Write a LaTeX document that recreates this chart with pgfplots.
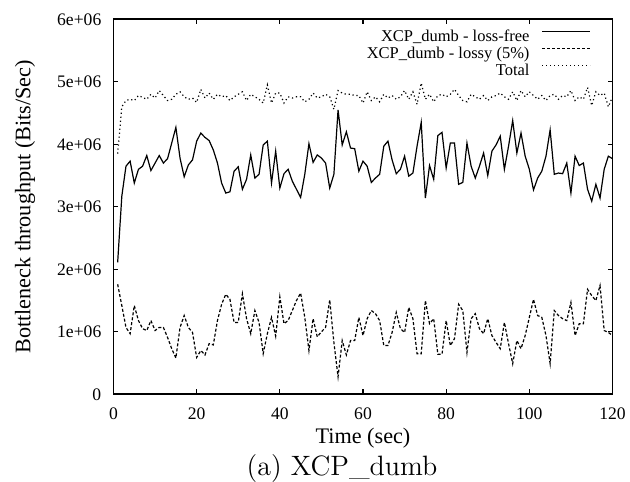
\documentclass[border=0pt]{standalone}
\usepackage{pgfplots}
\usepackage{pgfplotstable}
\pgfplotsset{compat=1.18}
\usepackage{fontspec}
\newfontfamily\tms{Liberation Serif}
\pgfplotstableread{
t free lossy total
1 2.11 1.76 3.85
2 3.17 1.42 4.60
3 3.65 1.07 4.70
4 3.73 0.97 4.72
5 3.38 1.42 4.70
6 3.60 1.18 4.78
7 3.65 1.05 4.75
8 3.82 1.02 4.72
9 3.58 1.18 4.80
10 3.70 1.02 4.74
11 3.82 1.07 4.86
12 3.70 1.07 4.78
13 3.77 0.91 4.70
14 4.02 0.73 4.72
15 4.27 0.58 4.80
16 3.78 1.07 4.84
17 3.48 1.26 4.76
18 3.67 1.07 4.72
19 3.75 0.99 4.74
20 4.05 0.59 4.67
21 4.18 0.70 4.88
22 4.11 0.63 4.74
23 4.06 0.81 4.82
24 3.91 0.79 4.72
25 3.70 1.18 4.80
26 3.38 1.44 4.76
27 3.22 1.60 4.78
28 3.24 1.52 4.70
29 3.57 1.15 4.76
30 3.64 1.15 4.80
31 3.28 1.61 4.84
32 3.44 1.21 4.70
33 3.83 0.97 4.80
34 3.46 1.34 4.76
35 3.52 1.15 4.72
36 3.99 0.65 4.66
37 4.05 0.97 4.95
38 3.38 1.23 4.66
39 3.89 0.93 4.82
40 3.30 1.56 4.82
41 3.53 1.13 4.66
42 3.60 1.18 4.76
43 3.41 1.34 4.74
44 3.28 1.50 4.76
45 3.15 1.62 4.76
46 3.52 1.23 4.68
47 4.01 0.70 4.72
48 3.71 1.21 4.82
49 3.83 0.92 4.74
50 3.78 1.00 4.76
51 3.70 1.07 4.80
52 3.30 1.51 4.76
53 3.52 0.83 4.56
54 4.55 0.28 4.86
55 3.99 0.86 4.82
56 4.20 0.63 4.80
57 3.94 0.86 4.80
58 3.93 0.86 4.78
59 3.57 1.23 4.78
60 3.73 0.94 4.66
61 3.65 1.21 4.84
62 3.39 1.34 4.70
63 3.46 1.29 4.76
64 3.52 1.18 4.68
65 3.97 0.78 4.80
66 4.05 0.78 4.74
67 3.75 0.99 4.78
68 3.53 1.31 4.72
69 3.60 1.05 4.76
70 3.81 0.99 4.86
71 3.49 1.39 4.72
72 3.54 1.21 4.84
73 3.97 0.65 4.64
74 4.35 0.65 4.98
75 3.14 1.50 4.72
76 3.66 1.13 4.80
77 3.44 1.21 4.68
78 4.14 0.64 4.78
79 4.19 0.64 4.80
80 3.62 1.18 4.76
81 4.02 0.78 4.80
82 4.02 0.89 4.88
83 3.36 1.44 4.78
84 3.39 1.34 4.70
85 4.02 0.67 4.68
86 3.65 1.21 4.80
87 3.46 1.29 4.76
88 3.65 1.05 4.72
89 3.86 0.97 4.78
90 3.50 1.21 4.70
91 3.89 0.94 4.76
92 3.99 0.83 4.78
93 4.13 0.73 4.82
94 3.60 1.15 4.76
95 3.97 0.81 4.72
96 4.38 0.49 4.84
97 3.86 0.86 4.70
98 4.18 0.73 4.86
99 3.81 0.94 4.76
100 3.60 1.23 4.84
101 3.27 1.52 4.78
102 3.46 1.26 4.72
103 3.57 1.23 4.78
104 3.81 0.94 4.70
105 4.23 0.49 4.78
106 3.52 1.34 4.80
107 3.54 1.26 4.72
108 3.53 1.21 4.78
109 3.70 1.18 4.76
110 3.22 1.47 4.86
111 3.81 0.94 4.70
112 3.66 1.13 4.76
113 3.70 1.13 4.72
114 3.28 1.68 4.91
115 3.09 1.58 4.62
116 3.36 1.50 4.84
117 3.14 1.74 4.78
118 3.60 1.02 4.82
119 3.81 0.99 4.60
120 3.77 0.94 4.76
}\data
\begin{document}
\begin{tikzpicture}
\begin{axis}[
  scale only axis, width=249.5pt, height=187.5pt,
  xmin=0, xmax=120, ymin=0, ymax=6,
  clip mode=individual,
  xtick={0,20,...,120}, ytick={0,1,...,6},
  yticklabels={0,1e+06,2e+06,3e+06,4e+06,5e+06,6e+06},
  tick align=inside, major tick length=2.5pt,
  axis line style={line width=0.9pt},
  every tick/.style={black, line width=0.6pt},
  /pgf/number format/assume math mode=true,
  ticklabel style={font=\tms\fontsize{8.8}{10}\selectfont},
  xticklabel style={inner sep=0pt, anchor=north, yshift=-6.7pt},
  yticklabel style={inner sep=0pt, anchor=east, xshift=-5.9pt},
  xlabel={Time (sec)},
  ylabel={Bottleneck throughput (Bits/Sec)},
  label style={font=\tms\fontsize{11.1}{12}\selectfont},
  xlabel style={at={(axis description cs:0.5,-0.13)}, anchor=base, inner sep=0pt},
  ylabel style={at={(axis description cs:-0.1774,0.5)}, anchor=center, inner sep=0pt},
  legend plot pos=right,
  legend cell align=right,
  legend image code/.code={\draw[#1] (0pt,2.6pt) -- (24pt,2.6pt);},
  legend style={at={(rel axis cs:0.9563,0.974)}, anchor=north east,
    draw=none, fill=none, inner sep=0pt, outer sep=0pt,
    font=\tms\fontsize{8.25}{9}\selectfont,
    row sep=0.5pt, column sep=6pt,
    nodes={inner sep=0pt, text height=6pt, text depth=2pt}},
]
\addplot[black, mark=none, line width=0.6pt] table[x=t, y=free] {\data};
\addlegendentry{XCP\_dumb - loss-free}
\addplot[black, mark=none, line width=0.6pt, dash pattern=on 1.5pt off 1pt] table[x=t, y=lossy] {\data};
\addlegendentry{XCP\_dumb - lossy (5\%)}
\addplot[black, mark=none, line width=0.6pt, dash pattern=on 0.6pt off 1.4pt] table[x=t, y=total] {\data};
\addlegendentry{Total}
\node[anchor=base, inner sep=0pt, font=\fontsize{14}{16}\selectfont] at (axis description cs:0.458,-0.2155) {(a) XCP\_dumb};
\end{axis}
\pgfresetboundingbox
\path (-56.75pt,-43.35pt) rectangle (258.25pt,197.15pt);
\end{tikzpicture}
\end{document}
